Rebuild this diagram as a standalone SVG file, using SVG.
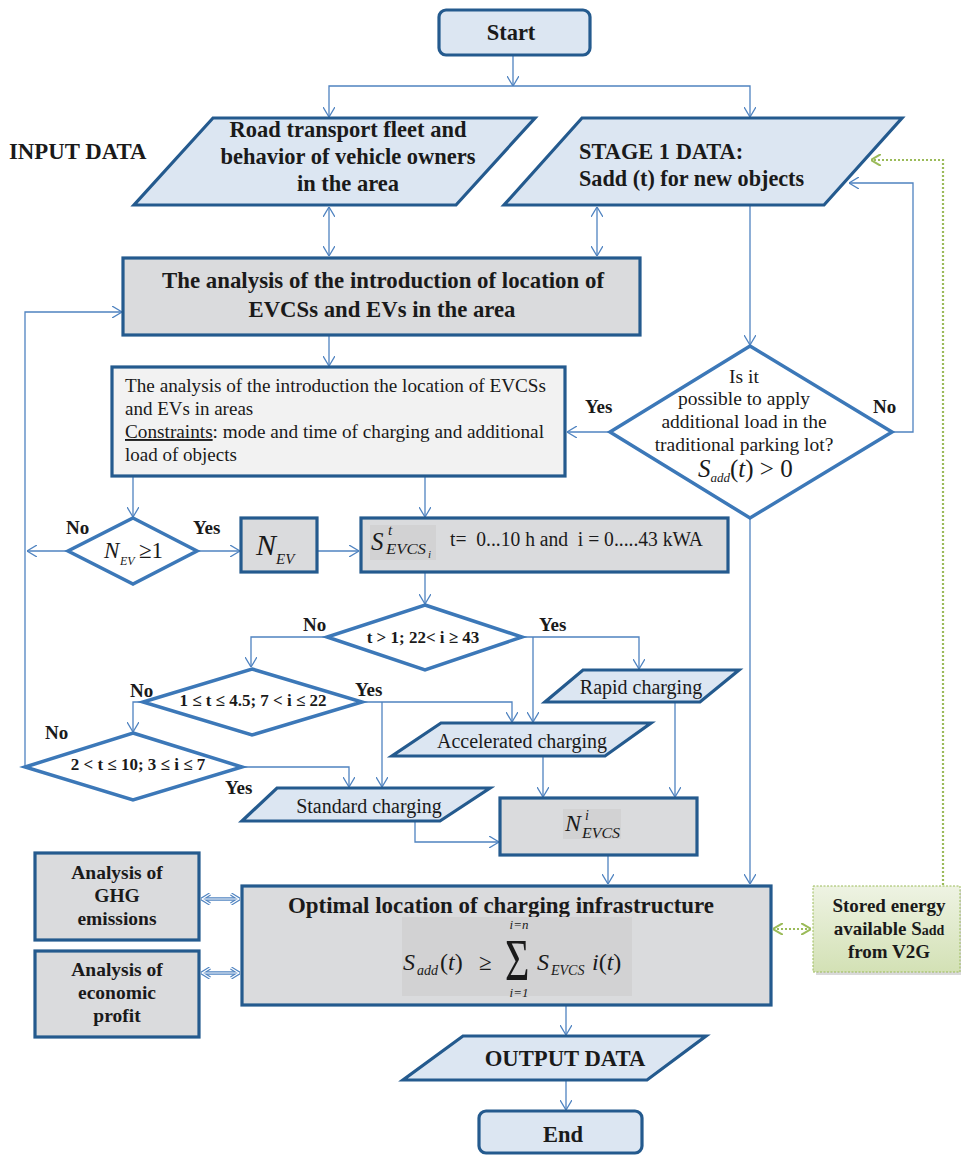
<svg xmlns="http://www.w3.org/2000/svg" width="961" height="1155" viewBox="0 0 961 1155">
<defs>
<style>
.box{fill:#dadbdd;stroke:#245a8e;stroke-width:3.2}
.lt{fill:#f2f2f2;stroke:#245a8e;stroke-width:3.2}
.io{fill:#dce6f2;stroke:#245a8e;stroke-width:3.2}
.dec{fill:#ffffff;stroke:#3c78b8;stroke-width:3.5}
.hl{fill:#d2d2d3}
.c{fill:none;stroke:#4f83c0;stroke-width:1.3}
.dbl{fill:none;stroke:#4f83c0;stroke-width:3.4}
.dblw{fill:none;stroke:#ffffff;stroke-width:1.2}
.g{fill:none;stroke:#9bbb59;stroke-width:2.2;stroke-dasharray:2 2}
.b{font-family:"Liberation Serif","Times New Roman",serif;font-weight:bold;fill:#1a1a1a}
.r{font-family:"Liberation Serif","Times New Roman",serif;fill:#1a1a1a}
.m{font-family:"Liberation Serif","Times New Roman",serif;font-style:italic;fill:#1a1a1a}
.mid{text-anchor:middle}
</style>
<marker id="ah" viewBox="0 0 10 12" refX="10" refY="6" markerWidth="10" markerHeight="12" markerUnits="userSpaceOnUse" orient="auto-start-reverse">
<path d="M0,0 L10,6 L0,12" fill="none" stroke="#4f83c0" stroke-width="1.3"/>
</marker>
<marker id="dh" viewBox="0 0 10 12" refX="9" refY="6" markerWidth="10" markerHeight="12" markerUnits="userSpaceOnUse" orient="auto-start-reverse">
<path d="M1,1 L9,6 L1,11" fill="none" stroke="#4f83c0" stroke-width="3.4"/>
</marker>
<marker id="dw" viewBox="0 0 10 12" refX="9" refY="6" markerWidth="10" markerHeight="12" markerUnits="userSpaceOnUse" orient="auto-start-reverse">
<path d="M1,1 L9,6 L1,11" fill="none" stroke="#ffffff" stroke-width="1.2"/>
</marker>
<marker id="gh" viewBox="0 0 10 12" refX="10" refY="6" markerWidth="10" markerHeight="12" markerUnits="userSpaceOnUse" orient="auto-start-reverse">
<path d="M0,0 L10,6 L0,12" fill="none" stroke="#9bbb59" stroke-width="2"/>
</marker>
<linearGradient id="gg" x1="0" y1="0" x2="0" y2="1">
<stop offset="0" stop-color="#eef3e3"/>
<stop offset="1" stop-color="#d3e1b5"/>
</linearGradient>
</defs>
<rect width="961" height="1155" fill="#ffffff"/>

<g id="connectors">
<path class="c" d="M513,55 V86" marker-end="url(#ah)"/>
<path class="c" d="M329,117 V86 H750 V117" marker-start="url(#ah)" marker-end="url(#ah)"/>
<path class="c" d="M329,207 V256" marker-start="url(#ah)" marker-end="url(#ah)"/>
<path class="c" d="M597,207 V256" marker-start="url(#ah)" marker-end="url(#ah)"/>
<path class="c" d="M329,335 V366" marker-end="url(#ah)"/>
<path class="c" d="M750,205 V345" marker-end="url(#ah)"/>
<path class="c" d="M610,432 H567" marker-end="url(#ah)"/>
<path class="c" d="M892,432 H913 V183 H849" marker-end="url(#ah)"/>
<path class="c" d="M750,518 V884" marker-end="url(#ah)"/>
<path class="c" d="M133,476 V517" marker-end="url(#ah)"/>
<path class="c" d="M425,476 V517" marker-end="url(#ah)"/>
<path class="c" d="M68,551 H27" marker-end="url(#ah)"/>
<path class="c" d="M197,551 H240" marker-end="url(#ah)"/>
<path class="c" d="M317,551 H359" marker-end="url(#ah)"/>
<path class="c" d="M425,572 V604" marker-end="url(#ah)"/>
<path class="c" d="M327,637 H251 V667" marker-end="url(#ah)"/>
<path class="c" d="M522,637 H639 V669" marker-end="url(#ah)"/>
<path class="c" d="M533,637 V722" marker-end="url(#ah)"/>
<path class="c" d="M143,702 H133 V732" marker-end="url(#ah)"/>
<path class="c" d="M362,702 H512 V722" marker-end="url(#ah)"/>
<path class="c" d="M382,702 V787" marker-end="url(#ah)"/>
<path class="c" d="M242,767 H349 V787" marker-end="url(#ah)"/>
<path class="c" d="M25,767 V312 H122" marker-end="url(#ah)"/>
<path class="c" d="M675,702 V797" marker-end="url(#ah)"/>
<path class="c" d="M543,756 V797" marker-end="url(#ah)"/>
<path class="c" d="M415,821 V842 H499" marker-end="url(#ah)"/>
<path class="c" d="M608,855 V884" marker-end="url(#ah)"/>
<path class="c" d="M566,1005 V1035" marker-end="url(#ah)"/>
<path class="c" d="M566,1080 V1110" marker-end="url(#ah)"/>
<path class="dbl" d="M202,899 H239" marker-start="url(#dh)" marker-end="url(#dh)"/>
<path class="dblw" d="M202,899 H239" marker-start="url(#dw)" marker-end="url(#dw)"/>
<path class="dbl" d="M202,973 H239" marker-start="url(#dh)" marker-end="url(#dh)"/>
<path class="dblw" d="M202,973 H239" marker-start="url(#dw)" marker-end="url(#dw)"/>
<path class="g" d="M773,929 H811" marker-start="url(#gh)" marker-end="url(#gh)"/>
<path class="g" d="M943,885 V160 H871" marker-end="url(#gh)"/>
</g>

<g id="input-label">
<text class="b" x="9" y="159" font-size="22.8">INPUT DATA</text>
</g>

<g id="start">
<rect x="439" y="10" width="151" height="45" rx="7" class="io"/>
<text class="b mid" x="511" y="40" font-size="22.5">Start</text>
</g>

<g id="fleet">
<polygon class="io" points="213,118 535,118 456,205 134,205"/>
<text class="b mid" x="348" y="137" font-size="22.5">Road transport fleet and</text>
<text class="b mid" x="348" y="164" font-size="22.5">behavior of vehicle owners</text>
<text class="b mid" x="348" y="191" font-size="22.5">in the area</text>
</g>

<g id="stage1">
<polygon class="io" points="582,118 902,118 824,205 504,205"/>
<text class="b" x="579" y="159" font-size="22.4">STAGE 1 DATA:</text>
<text class="b" x="579" y="186" font-size="22.2">Sadd (t) for new objects</text>
</g>

<g id="analysis1">
<rect x="123" y="258" width="517" height="77" class="box"/>
<text class="b mid" x="383" y="288" font-size="22.8" textLength="442" lengthAdjust="spacingAndGlyphs">The analysis of the introduction of location of</text>
<text class="b mid" x="382" y="317" font-size="22.8" textLength="267" lengthAdjust="spacingAndGlyphs">EVCSs and EVs in the area</text>
</g>

<g id="analysis2">
<rect x="112" y="367" width="453" height="109" class="lt"/>
<text class="r" x="125" y="392" font-size="19" textLength="421" lengthAdjust="spacingAndGlyphs">The analysis of the introduction the location of EVCSs</text>
<text class="r" x="125" y="415" font-size="19">and EVs in areas</text>
<text class="r" x="125" y="438" font-size="19" textLength="419" lengthAdjust="spacingAndGlyphs"><tspan text-decoration="underline">Constraints</tspan>: mode and time of charging and additional</text>
<text class="r" x="125" y="461" font-size="19">load of objects</text>
</g>

<g id="decision-load">
<polygon class="dec" points="750,346 892,432 750,518 610,432"/>
<text class="r mid" x="744" y="383" font-size="19.5">Is it</text>
<text class="r mid" x="744" y="405" font-size="19.5">possible to apply</text>
<text class="r mid" x="744" y="428" font-size="19.5">additional load in the</text>
<text class="r mid" x="744" y="451" font-size="19.5">traditional parking lot?</text>
<text class="m" x="698" y="477" font-size="25">S<tspan font-size="13" dy="5">add</tspan><tspan dy="-5" font-style="normal">(</tspan>t<tspan font-style="normal">) &gt; 0</tspan></text>
<text class="b" x="585" y="413" font-size="19">Yes</text>
<text class="b" x="873" y="413" font-size="19">No</text>
</g>

<g id="decision-nev">
<polygon class="dec" points="133,518 197,551 133,584 68,551"/>
<text class="m" x="104" y="558" font-size="23">N</text>
<text class="m" x="120" y="565" font-size="12">EV</text>
<text class="r" x="139" y="558" font-size="23">≥1</text>
<text class="b" x="66" y="534" font-size="19">No</text>
<text class="b" x="193" y="534" font-size="19">Yes</text>
</g>

<g id="nev">
<rect x="241" y="518" width="76" height="54" class="box"/>
<text class="m" x="256" y="555" font-size="30">N</text>
<text class="m" x="276" y="564" font-size="15">EV</text>
</g>

<g id="sevcs">
<rect x="361" y="518" width="367" height="54" class="box"/>
<rect x="370" y="525" width="66" height="35" class="hl"/>
<text class="m" x="371" y="550" font-size="25">S</text>
<text class="m" x="388" y="535" font-size="15">t</text>
<text class="m" x="386" y="554" font-size="15" textLength="40" lengthAdjust="spacingAndGlyphs">EVCS</text>
<text class="m" x="428" y="558" font-size="11">i</text>
<text class="r" x="450" y="546" font-size="20" textLength="253" lengthAdjust="spacingAndGlyphs" xml:space="preserve">t=  0...10 h and  i = 0.....43 kWA</text>
</g>

<g id="decision-rapid">
<polygon class="dec" points="425,605 522,637 425,670 327,637"/>
<text class="b mid" x="423" y="643" font-size="17">t &gt; 1; 22&lt; i ≥ 43</text>
<text class="b" x="303" y="631" font-size="19">No</text>
<text class="b" x="539" y="631" font-size="19">Yes</text>
</g>

<g id="decision-accel">
<polygon class="dec" points="252,669 362,702 252,735 143,702"/>
<text class="b mid" x="253" y="706" font-size="17">1 ≤ t ≤ 4.5; 7 &lt; i ≤ 22</text>
<text class="b" x="130" y="697" font-size="19">No</text>
<text class="b" x="355" y="696" font-size="19">Yes</text>
</g>

<g id="decision-std">
<polygon class="dec" points="133,733 242,767 133,800 25,767"/>
<text class="b mid" x="138" y="770" font-size="17">2 &lt; t ≤ 10; 3 ≤ i ≤ 7</text>
<text class="b" x="45" y="739" font-size="19">No</text>
<text class="b" x="225" y="794" font-size="19">Yes</text>
</g>

<g id="rapid">
<polygon class="io" points="583,670 739,670 700,702 545,702"/>
<text class="r mid" x="641" y="694" font-size="20">Rapid charging</text>
</g>

<g id="accelerated">
<polygon class="io" points="441,723 651,723 605,756 392,756"/>
<text class="r mid" x="522" y="748" font-size="20">Accelerated charging</text>
</g>

<g id="standard">
<polygon class="io" points="277,788 490,788 440,821 242,821"/>
<text class="r mid" x="369" y="813" font-size="20">Standard charging</text>
</g>

<g id="nevcs">
<rect x="500" y="798" width="197" height="57" class="box"/>
<rect x="563" y="809" width="58" height="30" class="hl"/>
<text class="m" x="565" y="831" font-size="24">N</text>
<text class="m" x="585" y="820" font-size="14">i</text>
<text class="m" x="582" y="838" font-size="14" textLength="38" lengthAdjust="spacingAndGlyphs">EVCS</text>
</g>

<g id="ghg">
<rect x="35" y="853" width="164" height="87" class="box"/>
<text class="b mid" x="117" y="879" font-size="19.5">Analysis of</text>
<text class="b mid" x="117" y="902" font-size="19.5">GHG</text>
<text class="b mid" x="117" y="925" font-size="19.5">emissions</text>
</g>

<g id="economic">
<rect x="35" y="951" width="164" height="86" class="box"/>
<text class="b mid" x="117" y="976" font-size="19.5">Analysis of</text>
<text class="b mid" x="117" y="999" font-size="19.5">economic</text>
<text class="b mid" x="117" y="1022" font-size="19.5">profit</text>
</g>

<g id="optimal">
<rect x="242" y="886" width="529" height="119" class="box"/>
<text class="b mid" x="501" y="913" font-size="23" textLength="426" lengthAdjust="spacingAndGlyphs">Optimal location of charging infrastructure</text>
<rect x="402" y="917" width="230" height="79" class="hl"/>
<text class="m" x="403" y="970" font-size="24">S</text>
<text class="m" x="417" y="975" font-size="14">add</text>
<text class="m" x="440" y="970" font-size="24"><tspan font-style="normal">(</tspan>t<tspan font-style="normal">)</tspan></text>
<text class="r" x="479" y="970" font-size="23">≥</text>
<text class="r" transform="translate(505,980) scale(1.05,1.5)" font-size="40">Σ</text>
<text class="m mid" x="519" y="929" font-size="13">i=n</text>
<text class="m mid" x="519" y="997" font-size="13">i=1</text>
<text class="m" x="537" y="970" font-size="24">S</text>
<text class="m" x="551" y="975" font-size="14">EVCS</text>
<text class="m" x="592" y="970" font-size="24">i<tspan font-style="normal">(</tspan>t<tspan font-style="normal">)</tspan></text>
</g>

<g id="v2g">
<rect x="816" y="889" width="147" height="86" fill="#bfbfbf" opacity="0.6"/>
<rect x="813" y="886" width="147" height="86" fill="url(#gg)" stroke="#9bbb59" stroke-width="1" stroke-dasharray="2 1.5"/>
<text class="b mid" x="889" y="912" font-size="19">Stored energy</text>
<text class="b mid" x="889" y="935" font-size="19">available S<tspan font-size="14">add</tspan></text>
<text class="b mid" x="889" y="958" font-size="19">from V2G</text>
</g>

<g id="output">
<polygon class="io" points="463,1036 706,1036 647,1080 403,1080"/>
<text class="b mid" x="565" y="1066" font-size="22.7">OUTPUT DATA</text>
</g>

<g id="end">
<rect x="479" y="1111" width="163" height="42" rx="7" class="io"/>
<text class="b mid" x="563" y="1142" font-size="22.5">End</text>
</g>
</svg>
